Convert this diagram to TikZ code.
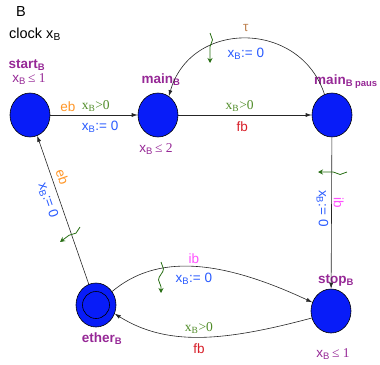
\documentclass[tikz,border=0pt]{standalone}
\usepackage{fontspec}
\setmainfont{Liberation Serif}
\setsansfont{Liberation Sans}
\usepackage{tikz}
\usetikzlibrary{arrows.meta,shapes.geometric,decorations.pathmorphing}
\definecolor{statefill}{RGB}{8,28,248}
\definecolor{locpurple}{RGB}{150,40,150}
\definecolor{syncorange}{RGB}{255,150,40}
\definecolor{guardgreen}{RGB}{80,140,40}
\definecolor{assignblue}{RGB}{40,90,255}
\definecolor{fbred}{RGB}{215,30,40}
\definecolor{ibpink}{RGB}{255,80,255}
\definecolor{taubrown}{RGB}{190,130,80}
\definecolor{wavegreen}{RGB}{40,110,20}
\newcommand{\xb}{x\textsubscript{B}}
\newcommand{\invar}[1]{{\sffamily\xb}\,{\rmfamily ≤ #1}}

\begin{document}
\begin{tikzpicture}[x=1pt, y=1pt,
    font=\sffamily\fontsize{13.5}{15}\selectfont,
    state/.style={draw, ellipse, fill=statefill, minimum width=40pt,
      minimum height=44pt, inner sep=0pt, line width=0.6pt},
    ringin/.style={draw, circle, minimum size=27pt, inner sep=0pt, line width=0.6pt},
    locname/.style={font=\sffamily\bfseries\fontsize{13.5}{15}\selectfont,
      text=locpurple, inner sep=0pt},
    inv/.style={text=locpurple, inner sep=0pt},
    arr/.style={-{Latex[length=6pt,width=4pt]}, line width=0.6pt, black!85},
    lbl/.style={inner sep=3pt},
    lo/.style={below, inner sep=6pt},
    eb/.style={lbl, text=syncorange},
    ib/.style={lbl, text=ibpink},
    fb/.style={lbl, text=fbred},
    guard/.style={lbl, text=guardgreen, font=\rmfamily\fontsize{13.5}{15}\selectfont},
    reset/.style={lbl, text=assignblue},
    wave/.style={-{Stealth[length=5pt,width=5pt]}, wavegreen, line width=0.8pt,
      decorate, decoration={snake, amplitude=2.5pt, segment length=22pt,
        post length=6pt}}
  ]
  \useasboundingbox (0,0) rectangle (380,-364);

  \node[font=\sffamily\fontsize{14.5}{16}\selectfont] (title) at (21,-12) {B};
  \node[anchor=west, font=\sffamily\fontsize{14.5}{16}\selectfont, inner sep=0pt]
    (clock) at (9,-34) {clock \xb};

  \node[state] (startB) at (30,-115) {};
  \node[state] (mainB) at (158,-115) {};
  \node[state] (mainP) at (332,-115) {};
  \node[state] (stopB) at (331,-311) {};
  \node[state] (etherB) at (96,-305) {};
  \node[ringin] (etherIn) at (etherB) {};

  \node[locname] (startN) at (27,-65) {start\textsubscript{B}};
  \node[inv] (startI) at (29,-79) {\invar{1}};
  \node[locname] (mainN) at (161,-80) {main\textsubscript{B}};
  \node[inv] (mainI) at (156,-149) {\invar{2}};
  \node[locname] (mainPN) at (346,-82) {main\textsubscript{B paus}};
  \node[locname] (stopN) at (336,-280) {stop\textsubscript{B}};
  \node[inv] (stopI) at (333,-354) {\invar{1}};
  \node[locname] (etherN) at (102,-339) {ether\textsubscript{B}};

  \draw[arr] (startB) -- node[eb, pos=0.2, above] {eb}
    node[guard, pos=0.52, above] {\xb>0}
    node[reset, pos=0.57, lo] {\xb:= 0} (mainB);
  \draw[arr] (mainB) -- node[guard, pos=0.46, above] {\xb>0}
    node[fb, pos=0.48, lo] {fb} (mainP);
  \draw[arr] (mainP.110) .. controls +(108:78) and +(74:80) .. (mainB.60)
    node[lbl, pos=0.5, above, inner sep=7pt, text=taubrown] {τ}
    node[reset, pos=0.5, below, inner sep=9pt] {\xb:= 0};
  \draw[arr] (mainP) -- node[ib, pos=0.43, rotate=-90, anchor=south, inner sep=2pt] {ib}
    node[reset, pos=0.47, rotate=-90, anchor=north] {\xb:= 0} (stopB);
  \draw[arr] (etherB.40) .. controls +(40:58) and +(155:103) .. (stopB.155)
    node[ib, pos=0.5, above] {ib}
    node[reset, pos=0.5, lo] {\xb:= 0};
  \draw[arr] (stopB.200) .. controls +(195:93) and +(-32:61) .. (etherB.-25)
    node[guard, pos=0.5, above] {\xb>0}
    node[fb, pos=0.5, lo] {fb};
  \draw[arr] (etherB) -- node[eb, pos=0.7, sloped, above, inner sep=5pt] {eb}
    node[reset, pos=0.59, sloped, below, inner sep=5pt] {\xb:= 0} (startB);

  \coordinate (waveTa) at (210,-33);
  \coordinate (waveTb) at (210,-63);
  \coordinate (waveRa) at (347,-172);
  \coordinate (waveRb) at (318,-172);
  \coordinate (waveBa) at (161,-262);
  \coordinate (waveBb) at (161,-293);
  \coordinate (waveLa) at (80,-227);
  \coordinate (waveLb) at (60,-242);
  \draw[wave] (waveTa) -- (waveTb);
  \draw[wave] (waveRa) -- (waveRb);
  \draw[wave] (waveBa) -- (waveBb);
  \draw[wave] (waveLa) -- (waveLb);
\end{tikzpicture}
\end{document}
